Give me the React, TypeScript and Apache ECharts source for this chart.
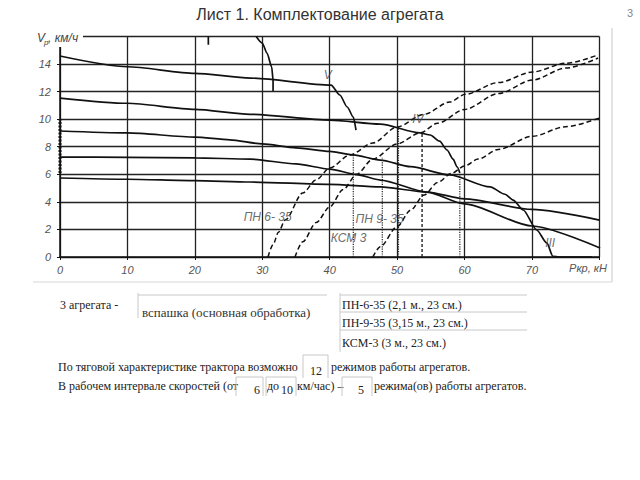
import React, { useEffect, useRef } from "react";
import * as echarts from "echarts";

// ---- axes ----
const xMin = 0, xMax = 80, xStep = 10;
const yMin = 0, yMax = 16, yStep = 2;
const xName = "Ркр, кН";
const yNameMain = "V";
const yNameSub = "р";
const yNameRest = ", км/ч";

// ---- tractor speed characteristics (gears), [Pkr kN, V km/h] ----
const gearI: [number, number][] = [[0, 5.73], [10, 5.64], [20, 5.54], [28.2, 5.44], [40, 5.27], [47.5, 5.08], [54.4, 4.71], [60, 4.22], [70, 3.45], [80, 2.68]];
const gearII: [number, number][] = [[0, 7.25], [10, 7.23], [20, 7.19], [28.2, 7.1], [35, 6.75], [40, 6.38], [44, 5.98], [47.5, 5.58], [54.4, 4.71], [60, 3.85], [70, 2.25], [80.1, 0.65]];
const gearIII: [number, number][] = [[0, 9.14], [10, 9.0], [20, 8.7], [25.2, 8.5], [30, 8.2], [35, 7.92], [40, 7.66], [43.5, 7.4], [47.5, 7.03], [52, 6.55], [57.8, 5.95], [63.8, 5.08], [66, 4.55], [67.2, 4.13], [68.7, 3.41], [70.7, 1.96], [72.2, 1.02], [73.1, 0.05], [74, 0], [78.9, 0]];
const gearIV: [number, number][] = [[0, 11.53], [10, 11.15], [20, 10.71], [28.2, 10.35], [40, 9.93], [47.5, 9.64], [53.4, 9.0], [54.9, 8.85], [56.3, 8.4], [57.4, 7.76], [58.3, 7.1], [58.9, 6.53], [59.3, 6.09]];
const gearV: [number, number][] = [[0, 14.58], [10, 13.8], [20, 13.32], [28.2, 12.98], [40.2, 12.47], [41.5, 11.75], [42.6, 10.88], [43.5, 10.15], [43.9, 9.21]];
const gearVI: [number, number][] = [[29.1, 16], [30.0, 15.52], [30.7, 14.79], [31.4, 13.78], [31.6, 12.84], [31.6, 12.04]];
const gearTopStub: [number, number][] = [[22, 16], [22, 15.4]];
const workInterval: [number, number][] = [[0, 6.1], [0, 10]];

// ---- implement resistance curves (dashed) ----
const curvePN635: [number, number][] = [[30.85, 0], [31.6, 0.9], [32.4, 1.8], [33.4, 2.68], [36, 4.64], [38, 5.6], [40, 6.45], [43, 7.4], [46.4, 8.27], [50, 9.43], [54, 10.35], [57.8, 11.24], [60.1, 11.8], [65, 12.65], [70.1, 13.42], [75, 14.05], [79.8, 14.65]];
const curveKSM3: [number, number][] = [[34.85, 0], [36, 1.1], [38, 2.5], [40, 3.63], [42, 4.9], [44, 6.0], [46.4, 7.1], [50, 8.2], [53.4, 9.0], [56, 9.7], [60, 10.7], [65, 11.85], [70.1, 12.84], [75, 13.7], [79.8, 14.43]];
const curvePN935: [number, number][] = [[46.4, 0], [47.5, 0.75], [50, 2.2], [52, 3.4], [54, 4.5], [56, 5.4], [58, 6.05], [60, 6.6], [62, 7.1], [65, 7.8], [70, 8.75], [75, 9.45], [80, 10.08]];

// ---- projections of intersection points ----
const dropA: [number, number][] = [[43.5, 0], [43.5, 7.4]];
const dropB: [number, number][] = [[47.8, 0], [47.8, 7.2]];
const dropC: [number, number][] = [[50.2, 0], [50.2, 9.45]];
const dropD: [number, number][] = [[53.7, 0], [53.7, 9.0]];
const dropE: [number, number][] = [[59.3, 0], [59.3, 6.1]];

// ---- annotations in data coordinates ----
const annotations = [
  { name: "V", value: [39.7, 13.2] },
  { name: "IV", value: [53.1, 10.0] },
  { name: "III", value: [72.7, 1.0] },
  { name: "ПН 6- 35", value: [30.8, 2.9] },
  { name: "ПН 9- 35", value: [47.4, 2.75] },
  { name: "КСМ 3", value: [42.8, 1.38] },
];

// ---- page texts ----
const pageTitle = "Лист 1. Комплектование агрегата";
const pageNumber = "3";
const aggregatesLabel = "3 агрегата -";
const workType = "вспашка (основная обработка)";
const implementsList = ["ПН-6-35 (2,1 м., 23 см.)", "ПН-9-35 (3,15 м., 23 см.)", "КСМ-3 (3 м., 23 см.)"];
const line1Start = "По тяговой характеристике трактора возможно";
const modesTotal = "12";
const line1End = "режимов работы агрегатов.";
const line2Start = "В рабочем интервале скоростей (от";
const speedFrom = "6";
const line2Mid1 = "до";
const speedTo = "10";
const line2Mid2 = "км/час) –";
const modesInRange = "5";
const line2End = "режима(ов) работы агрегатов.";

const SANS = '"Liberation Sans", Arial, sans-serif';
const SERIF = '"Liberation Serif", "Times New Roman", serif';

function solid(data: [number, number][], smooth = true) {
  return {
    type: "line", data, showSymbol: false, symbol: "none",
    smooth: smooth ? 0.25 : false, smoothMonotone: "x",
    lineStyle: { color: "#111", width: 1.7 }, silent: true, z: 3,
  };
}
function dashed(data: [number, number][]) {
  return {
    type: "line", data, showSymbol: false, symbol: "none", smooth: 0.3, smoothMonotone: "x",
    lineStyle: { color: "#111", width: 1.5, type: [5, 3] }, silent: true, z: 3,
  };
}
function drop(data: [number, number][], kind: any, width = 1.2) {
  return {
    type: "line", data, showSymbol: false, symbol: "none",
    lineStyle: { color: "#222", width, type: kind }, silent: true, z: 2,
  };
}

function txt(text: string, x: number, y: number, opts: any = {}) {
  return {
    type: "text", x, y, z: 100,
    style: {
      text, font: opts.font || `12px ${SERIF}`, fill: opts.fill || "#222",
      align: opts.align || "left", verticalAlign: "middle",
      textAlign: opts.align || "left", textVerticalAlign: "middle",
    },
  };
}
function ln(x1: number, y1: number, x2: number, y2: number, stroke = "#c8c8c8", w = 1) {
  return { type: "line", z: 100, shape: { x1, y1, x2, y2 }, style: { stroke, lineWidth: w } };
}

export default function App() {
  const ref = useRef<HTMLDivElement>(null);
  useEffect(() => {
    const chart = echarts.init(ref.current!, undefined, { renderer: "svg" });
    const labelStyle = { fontStyle: "italic", color: "#555", fontSize: 11, fontFamily: SANS };
    const option: any = {
      animation: false,
      backgroundColor: "#fff",
      grid: { left: 60, right: 40.6, top: 36.4, bottom: 223 },
      xAxis: {
        type: "value", min: xMin, max: xMax, interval: xStep,
        axisLine: { show: true, onZero: false, lineStyle: { color: "#111", width: 1.5 } },
        axisTick: { show: true, length: 3, lineStyle: { color: "#111" } },
        axisLabel: { ...labelStyle, margin: 7, formatter: (v: number) => (v === xMax ? "" : String(v)) },
        splitLine: { show: true, lineStyle: { color: "#222", width: 1.3 } },
      },
      yAxis: {
        type: "value", min: yMin, max: yMax, interval: yStep,
        axisLine: { show: true, onZero: false, lineStyle: { color: "#111", width: 1.5 } },
        axisTick: { show: true, length: 3, lineStyle: { color: "#111" } },
        axisLabel: { ...labelStyle, margin: 9, formatter: (v: number) => (v === yMax ? "" : String(v)) },
        splitLine: { show: true, lineStyle: { color: "#222", width: 1.3 } },
      },
      series: [
        solid(gearI), solid(gearII), solid(gearIII), solid(gearIV), solid(gearV),
        solid(gearVI), solid(gearTopStub, false),
        { type: "line", data: workInterval, showSymbol: false, symbol: "none", lineStyle: { color: "#111", width: 3, type: [2, 1.5] }, z: 4 },
        dashed(curvePN635), dashed(curveKSM3), dashed(curvePN935),
        drop(dropA, "dotted"), drop(dropB, "dotted"), drop(dropC, "dotted"), drop(dropD, [3, 2], 1.4), drop(dropE, "dotted"),
        {
          type: "scatter", data: annotations, symbolSize: 1, itemStyle: { color: "rgba(0,0,0,0)" }, z: 5,
          label: { show: true, position: "inside", formatter: "{b}", fontStyle: "italic", color: "#444", fontSize: 12, fontFamily: SANS },
        },
      ],
      graphic: [
        txt(pageTitle, 320, 14, { font: `16px ${SANS}`, fill: "#333", align: "center" }),
        txt(pageNumber, 630, 13, { font: `11px ${SANS}`, fill: "#888", align: "center" }),
        { type: "rect", z: 99, shape: { x: 30, y: 27, width: 53, height: 20 }, style: { fill: "#fff" } },
        txt(yNameMain, 37, 38, { font: `italic 12px ${SANS}`, fill: "#444" }),
        txt(yNameSub, 44, 42, { font: `italic 8px ${SANS}`, fill: "#444" }),
        txt(yNameRest, 48, 38, { font: `italic 12px ${SANS}`, fill: "#444" }),
        txt(xName, 588, 268, { font: `italic 11px ${SANS}`, fill: "#555", align: "center" }),
        ln(33, 282, 612, 282, "#e4e4e4", 1.5),
        ln(612, 28, 612, 282, "#e4e4e4", 2),
        txt(aggregatesLabel, 60, 305),
        ln(138, 295, 327, 295), ln(138, 293, 138, 318),
        txt(workType, 142, 312, { font: `13px ${SERIF}`, fill: "#333" }),
        ln(340, 293, 340, 352), ln(340, 295, 527, 295), ln(340, 312, 527, 312), ln(340, 330, 527, 330),
        txt(implementsList[0], 342, 305),
        txt(implementsList[1], 342, 323),
        txt(implementsList[2], 342, 343),
        txt(line1Start, 58, 367),
        ln(303, 355, 303, 378), ln(303, 355, 328, 355), ln(328, 355, 328, 378),
        txt(modesTotal, 316, 371, { align: "center" }),
        txt(line1End, 331, 367),
        txt(line2Start, 58, 386),
        ln(236, 377, 236, 396), ln(236, 377, 263, 377), ln(263, 377, 263, 396),
        txt(speedFrom, 257, 390, { align: "center" }),
        txt(line2Mid1, 267, 386),
        ln(266, 377, 266, 396), ln(266, 377, 296, 377), ln(296, 377, 296, 396),
        txt(speedTo, 287, 390, { align: "center" }),
        txt(line2Mid2, 297, 386),
        ln(342, 377, 342, 396), ln(342, 377, 372, 377), ln(372, 377, 372, 396),
        txt(modesInRange, 361, 390, { align: "center" }),
        txt(line2End, 374, 386),
      ],
    };
    chart.setOption(option);
    return () => chart.dispose();
  }, []);
  return <div ref={ref} style={{ position: "fixed", left: 0, top: 0, width: 640, height: 480, background: "#fff" }} />;
}
